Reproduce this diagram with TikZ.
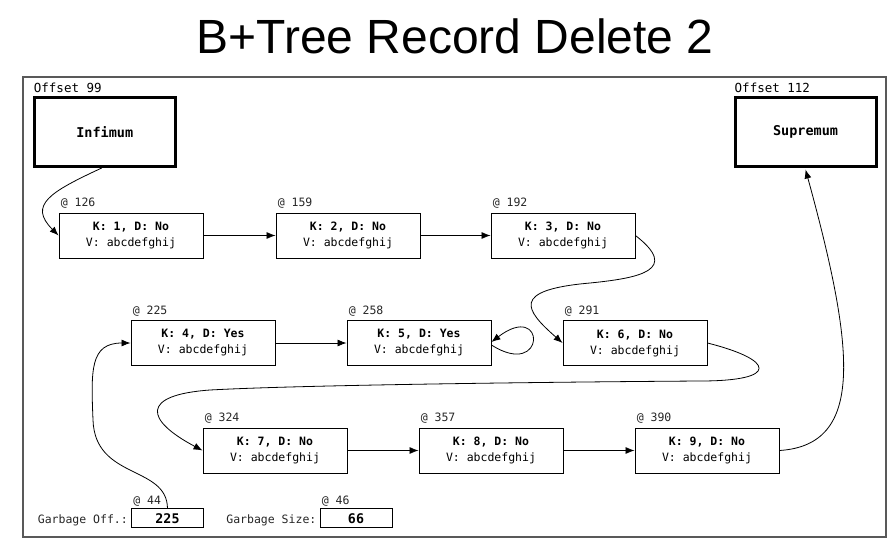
\documentclass[tikz,border=0pt]{standalone}
\usepackage{fontspec}
\setmainfont{Liberation Sans}
\newfontfamily\monof{DejaVu Sans Mono}
\usetikzlibrary{arrows.meta,calc}
\begin{document}
\begin{tikzpicture}[x=1pt,y=-1pt,
 rec/.style={draw, line width=0.9pt, minimum width=144pt, minimum height=45pt, inner sep=0pt, align=center, font=\monof\fontsize{11.5}{16}\selectfont},
 lab/.style={anchor=base west, inner sep=0pt, font=\monof\fontsize{11.5}{14}\selectfont, text=black!85},
 offlab/.style={anchor=base west, inner sep=0pt, font=\monof\fontsize{12.5}{14}\selectfont},
 big/.style={draw, line width=3pt, minimum width=141pt, minimum height=69pt, inner sep=0pt, font=\monof\bfseries\fontsize{13.5}{16}\selectfont},
 gbox/.style={draw, line width=0.9pt, minimum width=72pt, minimum height=19pt, inner sep=0pt, font=\monof\bfseries\fontsize{13.3}{15}\selectfont},
 glab/.style={anchor=base east, inner sep=0pt, font=\monof\fontsize{11.5}{14}\selectfont, text=black!85},
 arr/.style={-{Latex[length=9pt,width=7pt]}, line width=0.8pt},
 frame/.style={line width=1.4pt, draw=black!65}
]
\useasboundingbox (0,0) rectangle (893,549);
\node[inner sep=0pt, anchor=base, font=\fontsize{48}{56}\selectfont] (title) at (455,53) {B+Tree Record Delete 2};
\draw[frame] (23,77) rectangle (886,537);

% infimum / supremum
\node[big] (inf) at (104.7,132) {Infimum};
\node[big] (sup) at (805.5,132) {Supremum};
\node[offlab] (offi) at ([shift={(1pt,3.5pt)}]inf.north west) {Offset 99};
\node[offlab] (offs) at ([shift={(1pt,3.5pt)}]sup.north west) {Offset 112};

% records
\node[rec] (b1) at (131,235.5) {\textbf{K: 1, D: No}\\V: abcdefghij};
\node[rec] (b2) at (348,235.5) {\textbf{K: 2, D: No}\\V: abcdefghij};
\node[rec] (b3) at (563,235.5) {\textbf{K: 3, D: No}\\V: abcdefghij};
\node[rec] (b4) at (203,343) {\textbf{K: 4, D: Yes}\\V: abcdefghij};
\node[rec] (b5) at (419,343) {\textbf{K: 5, D: Yes}\\V: abcdefghij};
\node[rec] (b6) at (635,343) {\textbf{K: 6, D: No}\\V: abcdefghij};
\node[rec] (b7) at (275,450.5) {\textbf{K: 7, D: No}\\V: abcdefghij};
\node[rec] (b8) at (491,450.5) {\textbf{K: 8, D: No}\\V: abcdefghij};
\node[rec] (b9) at (707,450.5) {\textbf{K: 9, D: No}\\V: abcdefghij};

\node[lab] (l1) at ([shift={(2pt,6pt)}]b1.north west) {@ 126};
\node[lab] (l2) at ([shift={(2pt,6pt)}]b2.north west) {@ 159};
\node[lab] (l3) at ([shift={(2pt,6pt)}]b3.north west) {@ 192};
\node[lab] (l4) at ([shift={(2pt,6pt)}]b4.north west) {@ 225};
\node[lab] (l5) at ([shift={(2pt,6pt)}]b5.north west) {@ 258};
\node[lab] (l6) at ([shift={(2pt,6pt)}]b6.north west) {@ 291};
\node[lab] (l7) at ([shift={(2pt,6pt)}]b7.north west) {@ 324};
\node[lab] (l8) at ([shift={(2pt,6pt)}]b8.north west) {@ 357};
\node[lab] (l9) at ([shift={(2pt,6pt)}]b9.north west) {@ 390};

% garbage
\node[gbox] (g1) at (167.5,518.4) {225};
\node[gbox] (g2) at (356,518.4) {66};
\node[glab] (gl1) at ([xshift=-3pt]g1.base west) {Garbage Off.:};
\node[glab] (gl2) at ([xshift=-3pt]g2.base west) {Garbage Size:};
\node[lab] (a1) at ([shift={(2pt,4pt)}]g1.north west) {@ 44};
\node[lab] (a2) at ([shift={(2pt,4pt)}]g2.north west) {@ 46};

% connectors
\draw[arr] ([xshift=-3pt]inf.south) .. controls (50,192) and (28,205) .. (b1.west);
\draw[arr] (b1.east) -- (b2.west);
\draw[arr] (b2.east) -- (b3.west);
\draw[arr] (b3.east) .. controls (680,270) and (640,278) .. (590,283) .. controls (510,290) and (525,310) .. (b6.west);
\draw[arr] (b4.east) -- (b5.west);
\draw[arr] ([yshift=-2pt]b5.east) .. controls +(55,35) and +(55,-42) .. ([yshift=1pt]b5.east);
\draw[arr] (b6.east) .. controls (775,360) and (780,381) .. (700,381) .. controls (550,382) and (300,385) .. (210,390) .. controls (140,395) and (145,420) .. (b7.west);
\draw[arr] (b7.east) -- (b8.west);
\draw[arr] (b8.east) -- (b9.west);
\draw[arr] (b9.east) .. controls (865,445) and (855,350) .. ([yshift=-1.5pt]sup.south);
\draw[arr] (g1.north) .. controls (167,465) and (95,480) .. (93,420) .. controls (91,370) and (90,343) .. (b4.west);
\end{tikzpicture}
\end{document}
